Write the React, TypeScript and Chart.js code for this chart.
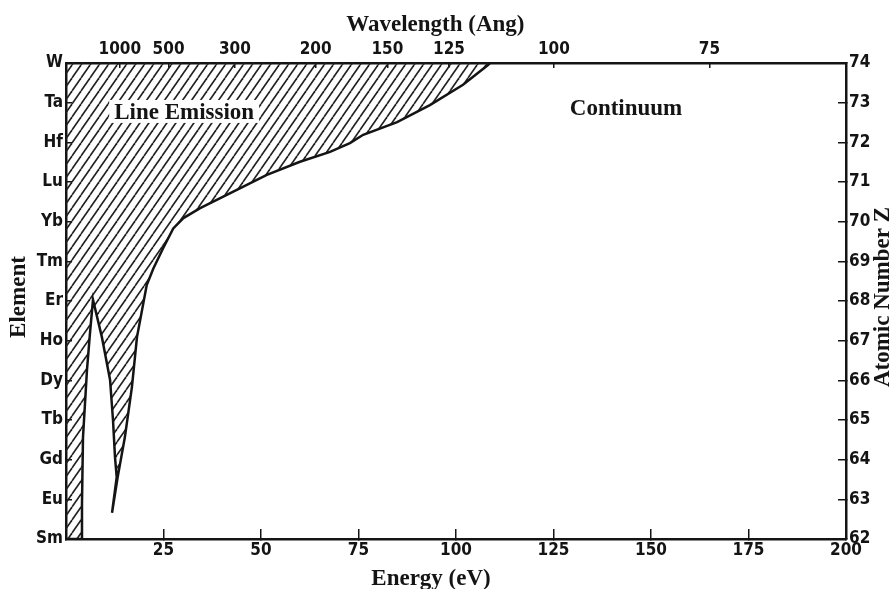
import React, { useEffect, useRef } from 'react';
import { Chart, registerables } from 'chart.js';

Chart.register(...registerables);

// Left axis: element symbols for Z = 62 ... 74
const elementSymbols = ['Sm', 'Eu', 'Gd', 'Tb', 'Dy', 'Ho', 'Er', 'Tm', 'Yb', 'Lu', 'Hf', 'Ta', 'W'];
// Top axis: wavelength tick labels (Angstrom) and the energies (eV) where they sit
const wavelengthLabels = ['1000', '500', '300', '200', '150', '125', '100', '75'];
const wavelengthTickEnergies = [13.8, 26.3, 43.3, 64.0, 82.4, 98.2, 125.1, 165.0];

// Boundary between the line-emission (hatched) region and the continuum
const boundaryEnergy = [
  0, 4.0, 4.1, 4.36, 5.38, 6.15, 6.92,
  9.2, 11.3, 12.05, 12.56, 13.0, 11.8, 13.25,
  15.1, 16.9, 18.2, 20.7, 22.4, 24.9, 27.5, 30.1, 34.4, 42.9, 51.5, 60.0,
  67.7, 72.8, 76.2, 84.9, 93.3, 101.8, 108.2, 108.7,
];
const boundaryZ = [
  62, 62, 62.9, 64.57, 66.26, 67.19, 68.03,
  67.09, 66.01, 65.0, 64.07, 63.56, 62.66, 63.56,
  64.57, 65.83, 67.09, 68.4, 68.82, 69.33, 69.83, 70.09, 70.34, 70.76, 71.18, 71.51,
  71.76, 71.98, 72.19, 72.51, 72.94, 73.45, 73.95, 74,
];

const INK = '#141414';
const tickFont = {
  family: "'Liberation Sans Narrow', 'DejaVu Sans Condensed', 'Liberation Sans', sans-serif",
  size: 17,
  weight: 'bold' as const,
};
const serifBold = "bold 23px 'Liberation Serif', 'Times New Roman', serif";

function makeHatch(): CanvasPattern | string {
  const w = 9;
  const h = 13;
  const c = document.createElement('canvas');
  c.width = w;
  c.height = h;
  const g = c.getContext('2d');
  if (!g) return '#999';
  g.strokeStyle = '#202020';
  g.lineWidth = 1.6;
  for (let k = -1; k <= 1; k++) {
    g.beginPath();
    g.moveTo(k * w, h);
    g.lineTo((k + 1) * w, 0);
    g.stroke();
  }
  return g.createPattern(c, 'repeat') || '#999';
}

const textPlugin = {
  id: 'figureTexts',
  afterDraw(chart: any) {
    const { ctx, scales } = chart;
    const xs = scales.x;
    const ys = scales.y;
    ctx.save();
    ctx.fillStyle = INK;
    ctx.font = serifBold;
    ctx.textAlign = 'center';
    ctx.textBaseline = 'alphabetic';

    // Axis titles
    ctx.fillText('Wavelength (Ang)', xs.getPixelForValue(94.7), 31);
    ctx.fillText('Energy (eV)', xs.getPixelForValue(93.6), 585);

    ctx.save();
    ctx.translate(25, ys.getPixelForValue(68.1));
    ctx.rotate(-Math.PI / 2);
    ctx.fillText('Element', 0, 0);
    ctx.restore();

    ctx.save();
    ctx.translate(889, ys.getPixelForValue(68.1));
    ctx.rotate(-Math.PI / 2);
    ctx.fillText('Atomic Number Z', 0, 0);
    ctx.restore();

    // Region labels
    const lx = xs.getPixelForValue(30.3);
    const ly = ys.getPixelForValue(72.59);
    const lw = ctx.measureText('Line Emission').width;
    ctx.fillStyle = '#ffffff';
    ctx.fillRect(lx - lw / 2 - 5, ly - 19, lw + 10, 23);
    ctx.fillStyle = INK;
    ctx.fillText('Line Emission', lx, ly);

    ctx.fillText('Continuum', xs.getPixelForValue(143.6), ys.getPixelForValue(72.69));
    ctx.restore();
  },
};

export default function App() {
  const canvasRef = useRef<HTMLCanvasElement | null>(null);

  useEffect(() => {
    const canvas = canvasRef.current;
    if (!canvas) return;
    const hatch = makeHatch();
    const gridBase = { drawOnChartArea: false, drawTicks: true, color: INK, lineWidth: 1.5 };
    const border = { display: true, color: INK, width: 2.5 };

    const chart = new Chart(canvas, {
      type: 'line',
      data: {
        datasets: [
          {
            data: boundaryEnergy.map((x, i) => ({ x, y: boundaryZ[i] })),
            borderColor: INK,
            borderWidth: 2.5,
            backgroundColor: hatch as any,
            fill: 'end',
            pointRadius: 0,
            tension: 0,
            xAxisID: 'x',
            yAxisID: 'y',
          },
        ],
      },
      options: {
        responsive: false,
        animation: false,
        devicePixelRatio: 1,
        layout: { padding: 0 },
        plugins: {
          legend: { display: false },
          tooltip: { enabled: false },
        },
        scales: {
          x: {
            type: 'linear',
            position: 'bottom',
            min: 0,
            max: 200,
            afterFit: (s: any) => {
              s.height = 50;
            },
            ticks: {
              stepSize: 25,
              autoSkip: false,
              maxRotation: 0,
              padding: 11,
              color: INK,
              font: tickFont,
              callback: (v: any) => (v === 0 ? '' : String(v)),
            },
            grid: { ...gridBase, tickLength: -10 },
            border,
          },
          x2: {
            type: 'linear',
            position: 'top',
            min: 0,
            max: 200,
            afterBuildTicks: (s: any) => {
              s.ticks = wavelengthTickEnergies.map((v) => ({ value: v }));
            },
            afterFit: (s: any) => {
              s.height = 63;
            },
            ticks: {
              autoSkip: false,
              maxRotation: 0,
              padding: 8,
              color: INK,
              font: tickFont,
              callback: (_v: any, i: number) => wavelengthLabels[i],
            },
            grid: { ...gridBase, tickLength: -5 },
            border,
          },
          y: {
            type: 'linear',
            position: 'left',
            min: 62,
            max: 74,
            afterFit: (s: any) => {
              s.width = 66;
            },
            ticks: {
              stepSize: 1,
              autoSkip: false,
              padding: 9,
              color: INK,
              font: tickFont,
              callback: (v: any) => elementSymbols[Math.round(v) - 62] ?? '',
            },
            grid: { ...gridBase, tickLength: -6 },
            border,
          },
          y2: {
            type: 'linear',
            position: 'right',
            min: 62,
            max: 74,
            afterFit: (s: any) => {
              s.width = 47;
            },
            ticks: {
              stepSize: 1,
              autoSkip: false,
              padding: 11,
              color: INK,
              font: tickFont,
              callback: (v: any) => String(v),
            },
            grid: { ...gridBase, tickLength: -8 },
            border,
          },
        },
      } as any,
      plugins: [textPlugin],
    });

    return () => chart.destroy();
  }, []);

  return (
    <div style={{ position: 'absolute', left: 0, top: 0, width: 893, height: 589, background: '#ffffff' }}>
      <canvas ref={canvasRef} width={893} height={589} style={{ display: 'block' }} />
    </div>
  );
}
